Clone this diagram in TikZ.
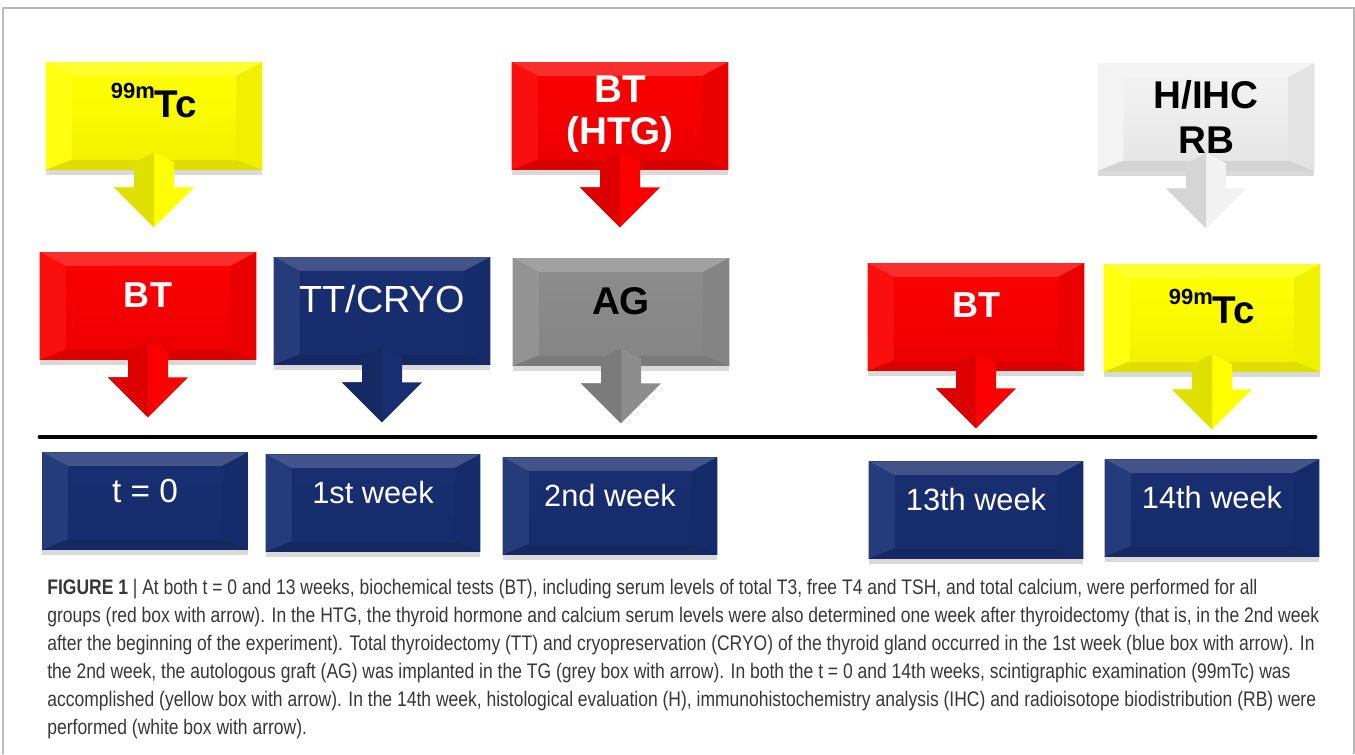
\documentclass[tikz,border=0pt]{standalone}
\usepackage{fontspec}
\setmainfont{Liberation Sans}
\newfontfamily\capfont[FakeStretch=0.83]{Liberation Sans}
\usetikzlibrary{shadows}

\definecolor{tlnavy}{RGB}{24,46,112}
\definecolor{tlred}{RGB}{250,0,0}
\definecolor{tlyellow}{RGB}{255,255,0}
\definecolor{tlgrey}{RGB}{140,140,140}
\definecolor{tlwhite}{RGB}{242,242,242}
\definecolor{captext}{RGB}{55,55,55}

\tikzset{
  bevelbox/.style={rectangle, fill=#1, inner sep=0pt,
    minimum width=4.34cm, minimum height=2.16cm, text depth=12pt,
    font=\fontsize{20}{23}\selectfont,
    drop shadow={shadow xshift=0pt, shadow yshift=-3pt, opacity=0.3},
    path picture={
      \fill[#1!82!white] (path picture bounding box.north west) -- (path picture bounding box.north east)
        -- ([shift={(-15pt,-8pt)}]path picture bounding box.north east) -- ([shift={(15pt,-8pt)}]path picture bounding box.north west) -- cycle;
      \fill[#1!94!white] (path picture bounding box.north west) -- ([shift={(15pt,-8pt)}]path picture bounding box.north west)
        -- ([shift={(15pt,6pt)}]path picture bounding box.south west) -- (path picture bounding box.south west) -- cycle;
      \fill[#1!94!black] (path picture bounding box.north east) -- ([shift={(-15pt,-8pt)}]path picture bounding box.north east)
        -- ([shift={(-15pt,6pt)}]path picture bounding box.south east) -- (path picture bounding box.south east) -- cycle;
      \fill[#1!87!black] (path picture bounding box.south west) -- ([shift={(15pt,6pt)}]path picture bounding box.south west)
        -- ([shift={(-15pt,6pt)}]path picture bounding box.south east) -- (path picture bounding box.south east) -- cycle;
      \shade[top color=#1, bottom color=#1!95!black] ([shift={(15pt,-8pt)}]path picture bounding box.north west)
        rectangle ([shift={(-15pt,6pt)}]path picture bounding box.south east);
    }},
  weekbox/.style={bevelbox=tlnavy, minimum width=4.3cm, minimum height=1.95cm,
    text=white, font=\fontsize{17.5}{20}\selectfont},
}

% block arrow hanging under a box
\newcommand{\hangarrow}[2]{%
  \fill[#2] (#1.south) ++(-20,-8) -- ++(0,25) -- ++(-20,0) -- ++(40,40) -- ++(40,-40)
    -- ++(-20,0) -- ++(0,-25) -- ++(-20,-10) -- cycle;
  \fill[#2!88!black] (#1.south) ++(0,-18) -- ++(-20,10) -- ++(0,25) -- ++(-20,0) -- ++(40,40) -- cycle;
}
\newcommand{\tcname}{{\fontsize{12.5}{12.5}\selectfont\raisebox{11pt}{99m}}Tc}

\begin{document}
\begin{tikzpicture}[x=0.02cm,y=-0.02cm]
  \useasboundingbox (0,0) rectangle (1355,754);
  \draw[gray!55, line width=0.8pt] (3,754) -- (3,8) -- (1354,8) -- (1354,754);
  %%%%%%%%%%%%%%%%%%%%%%%%%%%%%%%%
  \node[bevelbox=tlyellow, font=\bfseries\fontsize{22}{24}\selectfont, text depth=18pt] (tctop) at (154,116) {\tcname};
  \node[bevelbox=tlred, text=white, font=\bfseries\fontsize{22}{24}\selectfont, align=center, text depth=7pt] (htg) at (620,116) {BT\\(HTG)};
  \node[bevelbox=tlwhite, font=\bfseries\fontsize{22}{25.5}\selectfont, align=center, text depth=0pt] (hihc) at (1206,117) {H/IHC\\RB};
  \hangarrow{tctop}{tlyellow}
  \hangarrow{htg}{tlred}
  \hangarrow{hihc}{tlwhite}
  %%%%%%%%%%%%%%%%%%%%%%%%%%%%%%%%
  \node[bevelbox=tlred, text=white, font=\bfseries\fontsize{20.5}{23}\selectfont, text depth=12.5pt] (btzero) at (148,306) {BT};
  \node[bevelbox=tlnavy, text=white, font=\fontsize{21.5}{23}\selectfont, text depth=13.6pt] (ttcryo) at (382,311) {TT/CRYO};
  \node[bevelbox=tlgrey, font=\bfseries\fontsize{22}{24}\selectfont, text depth=12.5pt] (ag) at (621,312) {AG};
  \node[bevelbox=tlred, text=white, font=\bfseries\fontsize{20.5}{23}\selectfont, text depth=13.6pt] (btlate) at (976,317) {BT};
  \node[bevelbox=tlyellow, font=\bfseries\fontsize{22}{24}\selectfont, text depth=13pt] (tclate) at (1212,318) {\tcname};
  \hangarrow{btzero}{tlred}
  \hangarrow{ttcryo}{tlnavy}
  \hangarrow{ag}{tlgrey}
  \hangarrow{btlate}{tlred}
  \hangarrow{tclate}{tlyellow}
  %%%%%%%%%%%%%%%%%%%%%%%%%%%%%%%%
  \coordinate (tlstart) at (40,437);
  \coordinate (tlend) at (1315,437);
  \draw[line width=2.8pt, line cap=round] (tlstart) -- (tlend);
  %%%%%%%%%%%%%%%%%%%%%%%%%%%%%%%%
  \node[weekbox, minimum width=4.12cm, font=\fontsize{19}{21}\selectfont] (wzero) at (145,501) {t = 0};
  \node[weekbox] (wone) at (373,503) {1st week};
  \node[weekbox] (wtwo) at (610,506) {2nd week};
  \node[weekbox] (wthirteen) at (976,510) {13th week};
  \node[weekbox] (wfourteen) at (1212,508) {14th week};
  %%%%%%%%%%%%%%%%%%%%%%%%%%%%%%%%
  \node[anchor=north west, align=left, inner sep=0pt, text=captext,
        font=\capfont\fontsize{12}{15.9}\selectfont] (caption) at (47,579)
  {\textbf{FIGURE 1} | At both t = 0 and 13 weeks, biochemical tests (BT), including serum levels of total T3, free T4 and TSH, and total calcium, were performed for all\\
   groups (red box with arrow). In the HTG, the thyroid hormone and calcium serum levels were also determined one week after thyroidectomy (that is, in the 2nd week\\
   after the beginning of the experiment). Total thyroidectomy (TT) and cryopreservation (CRYO) of the thyroid gland occurred in the 1st week (blue box with arrow). In\\
   the 2nd week, the autologous graft (AG) was implanted in the TG (grey box with arrow). In both the t = 0 and 14th weeks, scintigraphic examination (99mTc) was\\
   accomplished (yellow box with arrow). In the 14th week, histological evaluation (H), immunohistochemistry analysis (IHC) and radioisotope biodistribution (RB) were\\
   performed (white box with arrow).};
\end{tikzpicture}
\end{document}
